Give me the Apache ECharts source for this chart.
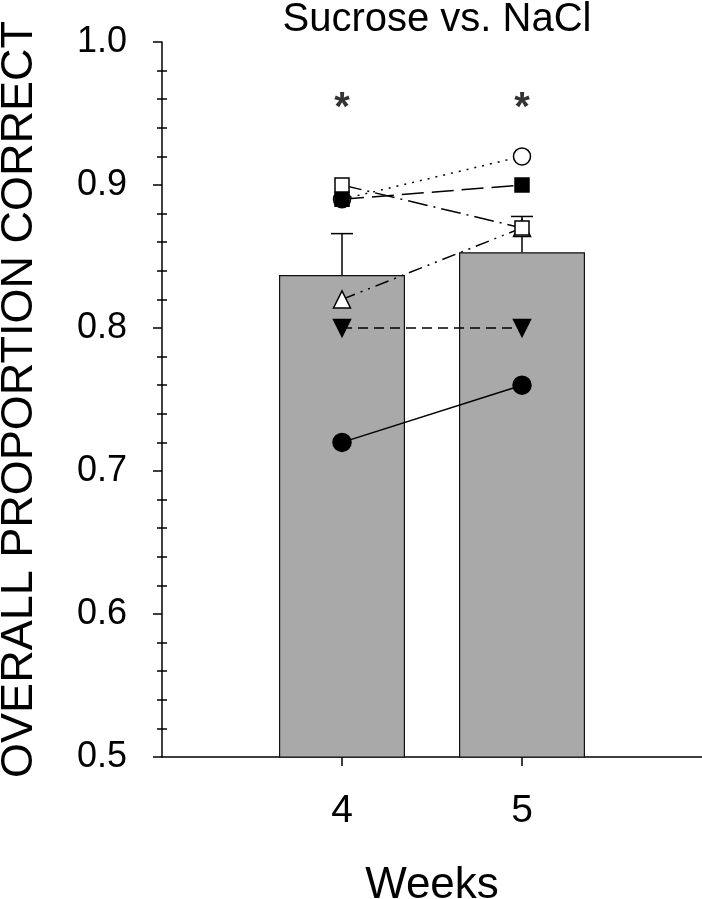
<!DOCTYPE html>
<html>
<head>
<meta charset="utf-8">
<script src="https://cdn.jsdelivr.net/npm/echarts@6/dist/echarts.min.js"></script>
<style>
  html, body { margin: 0; padding: 0; background: #fff; }
  #chart { width: 702px; height: 899px; }
</style>
</head>
<body>
<div id="chart"></div>
<script>
// weeks on x, group mean + SEM (bars), individual subjects (lines)
const weeks = [4, 5]
const meanCorrect = [0.837, 0.853]
const semCorrect = [0.029, 0.025]
const sigMark = [0.953, 0.953]

const subjFilledCircle = [0.72, 0.76]
const subjFilledDown = [0.80, 0.80]
const subjOpenUp = [0.82, 0.87]
const subjOpenSquare = [0.90, 0.87]
const subjFilledSquare = [0.89, 0.90]
const subjOpenCircle = [0.89, 0.92]

const pairs = vals => weeks.map((w, i) => [w, vals[i]])
const FONT = 'Liberation Sans, Arial, sans-serif'

function subject (name, vals, symbol, fill, dash, size, rotate) {
  return {
    name: name,
    type: 'line',
    data: pairs(vals),
    symbol: symbol,
    symbolSize: size,
    symbolRotate: rotate || 0,
    showAllSymbol: true,
    z: 5,
    lineStyle: { color: '#000', width: 1.5, type: dash },
    itemStyle: { color: fill, borderColor: '#000', borderWidth: 1.5 }
  }
}

const chart = echarts.init(document.getElementById('chart'), null, { renderer: 'canvas' })

chart.setOption({
  animation: false,
  textStyle: { fontFamily: FONT, color: '#000' },
  title: {
    text: 'Sucrose vs. NaCl',
    left: 432,
    textAlign: 'center',
    top: -5,
    textStyle: { fontSize: 40, fontWeight: 'normal', color: '#000', fontFamily: FONT }
  },
  grid: { left: 162, right: 0, top: 42, bottom: 142, outerBoundsMode: 'none', containLabel: false },
  xAxis: {
    type: 'value',
    min: 3,
    max: 6,
    interval: 1,
    name: 'Weeks',
    nameLocation: 'middle',
    nameGap: 107,
    nameTextStyle: { fontSize: 44, color: '#000', fontFamily: FONT },
    splitLine: { show: false },
    axisLine: { lineStyle: { color: '#000', width: 1.5 } },
    axisTick: { customValues: weeks, length: 9, lineStyle: { color: '#000', width: 1.5 } },
    axisLabel: { customValues: weeks, fontSize: 39, color: '#000', margin: 35, fontFamily: FONT }
  },
  yAxis: [
    {
      type: 'value',
      min: 0.5,
      max: 1.0,
      interval: 0.1,
      name: 'OVERALL PROPORTION CORRECT',
      nameLocation: 'middle',
      nameGap: 120,
      nameTextStyle: { fontSize: 45, color: '#000', fontFamily: FONT },
      splitLine: { show: false },
      axisLine: { show: true, lineStyle: { color: '#000', width: 1.5 } },
      axisTick: { show: true, length: 9, lineStyle: { color: '#000', width: 1.5 } },
      minorTick: { show: true, splitNumber: 5, length: 5, lineStyle: { color: '#000', width: 1.5 } },
      axisLabel: { fontSize: 36, color: '#000', margin: 35, fontFamily: FONT, formatter: v => v.toFixed(1) }
    },
    {
      type: 'value',
      min: 0.5,
      max: 1.0,
      interval: 0.1,
      position: 'left',
      splitLine: { show: false },
      axisLine: { show: false },
      axisTick: { show: false, inside: true },
      minorTick: { show: true, splitNumber: 5, length: 5, lineStyle: { color: '#000', width: 1.5 } },
      axisLabel: { show: false }
    }
  ],
  series: [
    {
      name: 'Mean',
      type: 'bar',
      data: pairs(meanCorrect),
      barWidth: 126,
      z: 2,
      itemStyle: { color: '#a9a9a9', borderColor: '#111', borderWidth: 1.2 }
    },
    {
      name: 'SEM',
      type: 'custom',
      z: 3,
      data: weeks.map((w, i) => [w, meanCorrect[i], meanCorrect[i] + semCorrect[i]]),
      renderItem: function (params, api) {
        const base = api.coord([api.value(0), api.value(1)])
        const top = api.coord([api.value(0), api.value(2)])
        const half = 11
        return {
          type: 'group',
          children: [
            { type: 'line', shape: { x1: base[0], y1: base[1], x2: top[0], y2: top[1] }, style: { stroke: '#000', lineWidth: 1.5 } },
            { type: 'line', shape: { x1: top[0] - half, y1: top[1], x2: top[0] + half, y2: top[1] }, style: { stroke: '#000', lineWidth: 1.5 } }
          ]
        }
      }
    },
    subject('Subject 1', subjFilledCircle, 'circle', '#000', 'solid', 18),
    subject('Subject 2', subjFilledDown, 'triangle', '#000', [10, 6], 17, 180),
    subject('Subject 3', subjOpenCircle, 'circle', '#fff', [2, 6], 17),
    subject('Subject 4', subjOpenUp, 'triangle', '#fff', [14, 6, 2, 6, 2, 6], 17),
    subject('Subject 5', subjFilledSquare, 'rect', '#000', [22, 8], 14),
    subject('Subject 6', subjOpenSquare, 'rect', '#fff', [20, 6, 2, 6], 14),
    {
      name: 'Significance',
      type: 'scatter',
      data: pairs(sigMark),
      symbol: 'circle',
      symbolSize: 1,
      itemStyle: { color: 'rgba(0,0,0,0)' },
      z: 6,
      label: { show: true, position: 'inside', formatter: '*', fontSize: 40, fontWeight: 'bold', color: '#000', fontFamily: FONT }
    }
  ]
})
</script>
</body>
</html>
